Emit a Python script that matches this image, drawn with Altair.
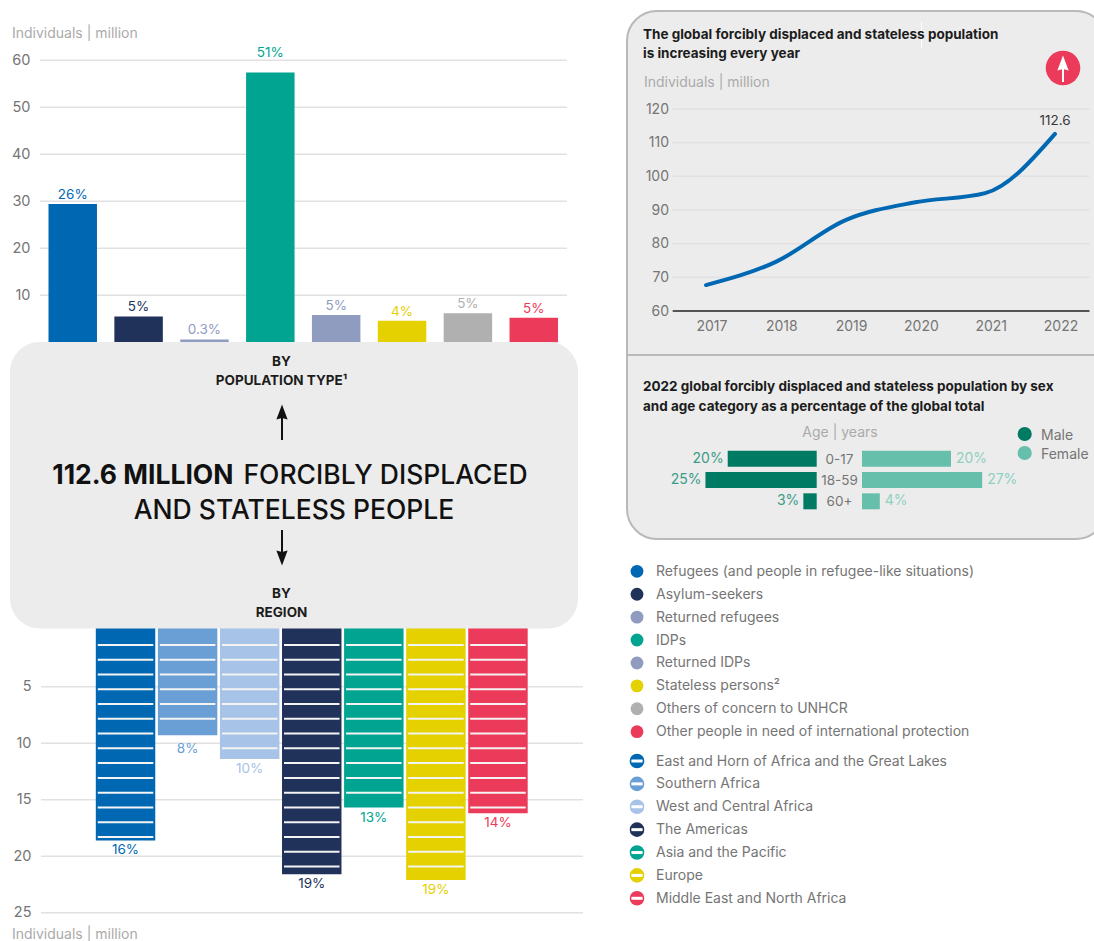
import altair as alt
import pandas as pd

FONT = "Inter"

# Population types
type_names = ["Refugees (and people in refugee-like situations)", "Asylum-seekers", "Returned refugees", "IDPs",
              "Returned IDPs", "Stateless persons²", "Others of concern to UNHCR",
              "Other people in need of international protection"]
type_values = [29.4, 5.5, 0.6, 57.4, 5.8, 4.6, 6.2, 5.2]
type_labels = ["26%", "5%", "0.3%", "51%", "5%", "4%", "5%", "5%"]
type_colors = ["#0068b3", "#20325a", "#8f9cbf", "#00a491", "#8f9cbf", "#e5d000", "#b0b0b0", "#ec3b5a"]
type_ticks = [10, 20, 30, 40, 50, 60]

# Regions
region_names = ["East and Horn of Africa and the Great Lakes", "Southern Africa", "West and Central Africa",
                "The Americas", "Asia and the Pacific", "Europe", "Middle East and North Africa"]
region_values = [18.6, 9.3, 11.4, 21.6, 15.7, 22.1, 16.2]
region_labels = ["16%", "8%", "10%", "19%", "13%", "19%", "14%"]
region_colors = ["#0068b3", "#6a9fd6", "#a7c3e8", "#20325a", "#00a491", "#e5d000", "#ec3b5a"]
region_ticks = [5, 10, 15, 20, 25]

# Yearly total
years = ["2017", "2018", "2019", "2020", "2021", "2022"]
totals = [67.7, 74.6, 87.0, 92.3, 95.0, 112.6]
total_ticks = [60, 70, 80, 90, 100, 110, 120]

# Sex and age split
ages = ["0-17", "18-59", "60+"]
male = [20, 25, 3]
female = [20, 27, 4]

GREY = "#757575"
LIGHT = "#abaaaa"
INK = "#1c1c1c"
GRID = "#e1e1e1"
PANEL = "#ececec"
EDGE = "#b9b9b9"

layers = []


def text(content, x, y, size=14, color=GREY, bold=False, align="left", weight=None):
    layers.append(
        alt.Chart(pd.DataFrame({"t": [content]}))
        .mark_text(font=FONT, fontSize=size, color=color, align=align, baseline="middle",
                   fontWeight=weight if weight else ("bold" if bold else "normal"))
        .encode(x=alt.value(x), y=alt.value(y), text="t:N")
    )


def panel(x, x2, y, y2, **kw):
    layers.append(
        alt.Chart(pd.DataFrame({"a": [0]}))
        .mark_rect(cornerRadius=30, fill=PANEL, **kw)
        .encode(x=alt.value(x), x2=alt.value(x2), y=alt.value(y), y2=alt.value(y2))
    )


def hline(x, x2, y, color, width=1.5):
    layers.append(
        alt.Chart(pd.DataFrame({"a": [0]}))
        .mark_rule(color=color, strokeWidth=width)
        .encode(x=alt.value(x), x2=alt.value(x2), y=alt.value(y))
    )


def glyph(shape, x, y, size, color):
    layers.append(
        alt.Chart(pd.DataFrame({"a": [0]}))
        .mark_point(shape=shape, filled=True, size=size, color=color, opacity=1)
        .encode(x=alt.value(x), y=alt.value(y))
    )


def vline(x, y, y2, color, width=2):
    layers.append(
        alt.Chart(pd.DataFrame({"a": [0]}))
        .mark_rule(color=color, strokeWidth=width)
        .encode(x=alt.value(x), y=alt.value(y), y2=alt.value(y2))
    )


def tick_axis(values, offset, size=14.5, pad=2):
    return alt.Axis(orient="left", offset=offset, values=values, domain=False, ticks=False, grid=False,
                    labelFont=FONT, labelFontSize=size, labelColor=GREY, labelPadding=pad, title=None,
                    labelFlush=False, labelOverlap=False, zindex=1)


# Top bar chart: individuals by population type
y_type = alt.Scale(domain=[0, 60], range=[342.3, 60.3])
x_type = alt.Scale(type="band", domain=type_names, range=[48.5, 558], paddingInner=0.264, paddingOuter=0)
df_type = pd.DataFrame({"name": type_names, "value": type_values, "label": type_labels})
layers.append(
    alt.Chart(pd.DataFrame({"tick": type_ticks}))
    .mark_rule(color=GRID, strokeWidth=1.5)
    .encode(x=alt.value(40), x2=alt.value(567),
            y=alt.Y("tick:Q", scale=y_type, axis=tick_axis(type_ticks, -32)))
)
color_type = alt.Color("name:N", scale=alt.Scale(domain=type_names, range=type_colors), legend=None)
layers.append(
    alt.Chart(df_type).mark_bar()
    .encode(x=alt.X("name:N", scale=x_type, axis=None, sort=None),
            y=alt.Y("value:Q", scale=y_type, axis=None), color=color_type)
)
for names, gap in ((type_names[:3] + type_names[4:], 3), (type_names[3:4], 14)):
    layers.append(
        alt.Chart(df_type[df_type["name"].isin(names)])
        .mark_text(font=FONT, fontSize=13.5, baseline="bottom", dy=-gap + 1)
        .encode(x=alt.X("name:N", scale=x_type, axis=None, sort=None),
                y=alt.Y("value:Q", scale=y_type, axis=None), text="label:N", color=color_type)
    )

# Bottom bar chart: individuals by region, drawn downward
y_region = alt.Scale(domain=[0, 25], range=[630.2, 912.7])
x_region = alt.Scale(type="band", domain=region_names, range=[95.8, 527.7], paddingInner=0.042, paddingOuter=0)
color_region = alt.Color("name:N", scale=alt.Scale(domain=region_names, range=region_colors), legend=None)
df_region = pd.DataFrame({"name": region_names, "value": region_values, "label": region_labels, "base": -0.4})
layers.append(
    alt.Chart(pd.DataFrame({"tick": region_ticks}))
    .mark_rule(color=GRID, strokeWidth=1.5)
    .encode(x=alt.value(41), x2=alt.value(583),
            y=alt.Y("tick:Q", scale=y_region, axis=tick_axis(region_ticks, -33)))
)
layers.append(
    alt.Chart(df_region).mark_bar()
    .encode(x=alt.X("name:N", scale=x_region, axis=None, sort=None),
            y=alt.Y("value:Q", scale=y_region, axis=None), y2="base:Q", color=color_region)
)
# White bands run across each regional bar at a fixed spacing
BAND_STEP = 1.307
stripe_rows = []
for name, value in zip(region_names, region_values):
    k = 1
    while k * BAND_STEP + 0.3 < value:
        stripe_rows.append({"name": name, "at": k * BAND_STEP})
        k += 1
layers.append(
    alt.Chart(pd.DataFrame(stripe_rows))
    .mark_tick(color="#f4f4f4", size=55.5, thickness=2, opacity=1)
    .encode(x=alt.X("name:N", scale=x_region, axis=None, sort=None),
            y=alt.Y("at:Q", scale=y_region, axis=None))
)
for names, gap in ((region_names[:1] + region_names[2:], 4), (region_names[1:2], 8)):
    layers.append(
        alt.Chart(df_region[df_region["name"].isin(names)])
        .mark_text(font=FONT, fontSize=13.5, baseline="top", dy=gap - 1)
        .encode(x=alt.X("name:N", scale=x_region, axis=None, sort=None),
                y=alt.Y("value:Q", scale=y_region, axis=None), text="label:N", color=color_region)
    )

text("Individuals | million", 12, 34, size=14, color=LIGHT)
text("Individuals | million", 12, 935, size=14, color=LIGHT)

# Central panel
panel(10, 578, 342, 628.5)
text("BY", 281.5, 361.5, size=13.5, color=INK, bold=True, align="center")
text("POPULATION TYPE¹", 281.5, 380.5, size=13.5, color=INK, bold=True, align="center")
text("112.6 MILLION", 233.5, 475.5, size=26.5, color="#111111", bold=True, align="right")
text("FORCIBLY DISPLACED", 243.5, 475.5, size=26.5, color="#111111", weight=500)
text("AND STATELESS PEOPLE", 294, 510.5, size=26.5, color="#111111", weight=500, align="center")
text("BY", 281.5, 593.5, size=13.5, color=INK, bold=True, align="center")
text("REGION", 281.5, 612.5, size=13.5, color=INK, bold=True, align="center")
ARROW = "M0,-1L-0.75,1L0,0.8L0.75,1Z"
vline(282, 415, 440, "#111111")
glyph(ARROW, 282, 412, 225, "#111111")
vline(282, 530, 556, "#111111")
glyph("M0,1L-0.75,-1L0,-0.8L0.75,-1Z", 282, 558, 225, "#111111")

# Right panel frame
panel(627, 1106, 11, 539, stroke=EDGE, strokeWidth=2)
hline(627, 1094, 355, EDGE, 2)
vline(921.5, 22, 48, "#ffffff", 1)

text("The global forcibly displaced and stateless population", 643, 34.5, size=13.5, color=INK, bold=True)
text("is increasing every year", 643, 53.5, size=13.5, color=INK, bold=True)
text("Individuals | million", 644, 82.5, size=14, color=LIGHT)
glyph("circle", 1063, 68, 1195, "#ec3b5a")
vline(1063, 64, 82, "#ffffff")
glyph(ARROW, 1063, 63, 225, "#ffffff")

# Line chart of the yearly total
y_total = alt.Scale(domain=[60, 120], range=[311, 109])
x_total = alt.Scale(type="point", domain=years, range=[706, 1055], padding=0)
layers.append(
    alt.Chart(pd.DataFrame({"tick": total_ticks[1:]}))
    .mark_rule(color=GRID, strokeWidth=1.5)
    .encode(x=alt.value(672.7), x2=alt.value(1089.5),
            y=alt.Y("tick:Q", scale=y_total, axis=tick_axis(total_ticks, -670.5, size=14)))
)
hline(672.7, 1089.5, 311, "#555555", 2)
df_total = pd.DataFrame({"year": years, "total": totals})
layers.append(
    alt.Chart(df_total).mark_line(color="#0068b3", strokeWidth=4, interpolate="monotone", strokeCap="round")
    .encode(x=alt.X("year:O", scale=x_total, sort=None,
                    axis=alt.Axis(orient="bottom", offset=-625, labelOffset=5.5, domain=False, ticks=False,
                                  grid=False, labelAngle=0, labelFont=FONT, labelFontSize=14, labelColor=GREY,
                                  labelPadding=3, title=None, zindex=1)),
            y=alt.Y("total:Q", scale=y_total, axis=None))
)
layers.append(
    alt.Chart(df_total[df_total["year"] == "2022"])
    .mark_text(font=FONT, fontSize=13.5, color="#3a3a3a", baseline="bottom", dy=-6)
    .encode(x=alt.X("year:O", scale=x_total, sort=None, axis=None),
            y=alt.Y("total:Q", scale=y_total, axis=None), text=alt.Text("total:Q", format=".1f"))
)

# Sex and age chart
text("2022 global forcibly displaced and stateless population by sex", 643, 386.5, size=13.5, color=INK, bold=True)
text("and age category as a percentage of the global total", 643, 407, size=13.5, color=INK, bold=True)
text("Age | years", 840, 433, size=14, color=LIGHT, align="center")
y_age = alt.Scale(type="band", domain=ages, range=[450.7, 509.3], paddingInner=0.25, paddingOuter=0)
x_male = alt.Scale(domain=[0, 30], range=[816.7, 683.2])
x_female = alt.Scale(domain=[0, 30], range=[862, 995.5])
df_age = pd.DataFrame({"age": ages, "male": male, "female": female})
for field, scale, color, tint, align, off in (("male", x_male, "#007a63", "#3b9a88", "right", -4),
                                              ("female", x_female, "#66bfab", "#8dd0bf", "left", 5)):
    layers.append(
        alt.Chart(df_age).mark_bar(color=color)
        .encode(x=alt.X(f"{field}:Q", scale=scale, axis=None),
                y=alt.Y("age:N", scale=y_age, axis=None, sort=None))
    )
    layers.append(
        alt.Chart(df_age).transform_calculate(label=f"datum.{field} + '%'")
        .mark_text(font=FONT, fontSize=14, color=tint, align=align, dx=off)
        .encode(x=alt.X(f"{field}:Q", scale=scale, axis=None),
                y=alt.Y("age:N", scale=y_age, axis=None, sort=None), text="label:N")
    )
layers.append(
    alt.Chart(df_age).mark_text(font=FONT, fontSize=13.5, color=GREY, align="center", dy=1)
    .encode(x=alt.value(839.5), y=alt.Y("age:N", scale=y_age, axis=None, sort=None), text="age:N")
)
glyph("circle", 1024.7, 434, 200, "#007a63")
glyph("circle", 1024.7, 453, 200, "#66bfab")
text("Male", 1041, 436, size=14)
text("Female", 1041, 454.5, size=14)

# Keys for the population types and regions
y_key_type = alt.Scale(type="point", domain=type_names, range=[571.3, 731.7], padding=0)
y_key_region = alt.Scale(type="point", domain=region_names, range=[761, 898.3], padding=0)
df_key_region = pd.DataFrame({"name": region_names})
df_key_type = pd.DataFrame({"name": type_names})
layers.append(
    alt.Chart(df_key_type).mark_point(filled=True, size=165, opacity=1)
    .encode(x=alt.value(637), y=alt.Y("name:N", scale=y_key_type, axis=None, sort=None), color=color_type)
)
layers.append(
    alt.Chart(df_key_type).mark_text(font=FONT, fontSize=14, color=GREY, align="left", dy=0.5)
    .encode(x=alt.value(656), y=alt.Y("name:N", scale=y_key_type, axis=None, sort=None), text="name:N")
)
layers.append(
    alt.Chart(df_key_region).mark_point(filled=True, size=170, opacity=1)
    .encode(x=alt.value(637), y=alt.Y("name:N", scale=y_key_region, axis=None, sort=None), color=color_region)
)
layers.append(
    alt.Chart(df_key_region).mark_tick(color="#ffffff", size=13, thickness=3, opacity=1, orient="horizontal")
    .encode(x=alt.value(637), y=alt.Y("name:N", scale=y_key_region, axis=None, sort=None))
)
# Ring that closes each striped key symbol
layers.append(
    alt.Chart(df_key_region).mark_point(filled=False, size=170, opacity=1, strokeWidth=1.6)
    .encode(x=alt.value(637), y=alt.Y("name:N", scale=y_key_region, axis=None, sort=None), color=color_region)
)
layers.append(
    alt.Chart(df_key_region).mark_text(font=FONT, fontSize=14, color=GREY, align="left", dy=0.5)
    .encode(x=alt.value(656), y=alt.Y("name:N", scale=y_key_region, axis=None, sort=None), text="name:N")
)

chart = (
    alt.layer(*layers)
    .resolve_scale(x="independent", y="independent", color="independent")
    .resolve_axis(x="independent", y="independent")
    .properties(width=1094, height=941, padding=0, autosize="none", background="#ffffff")
    .configure_view(stroke=None)
)
chart.save("out.html", embed_options={"renderer": "svg", "actions": False})
